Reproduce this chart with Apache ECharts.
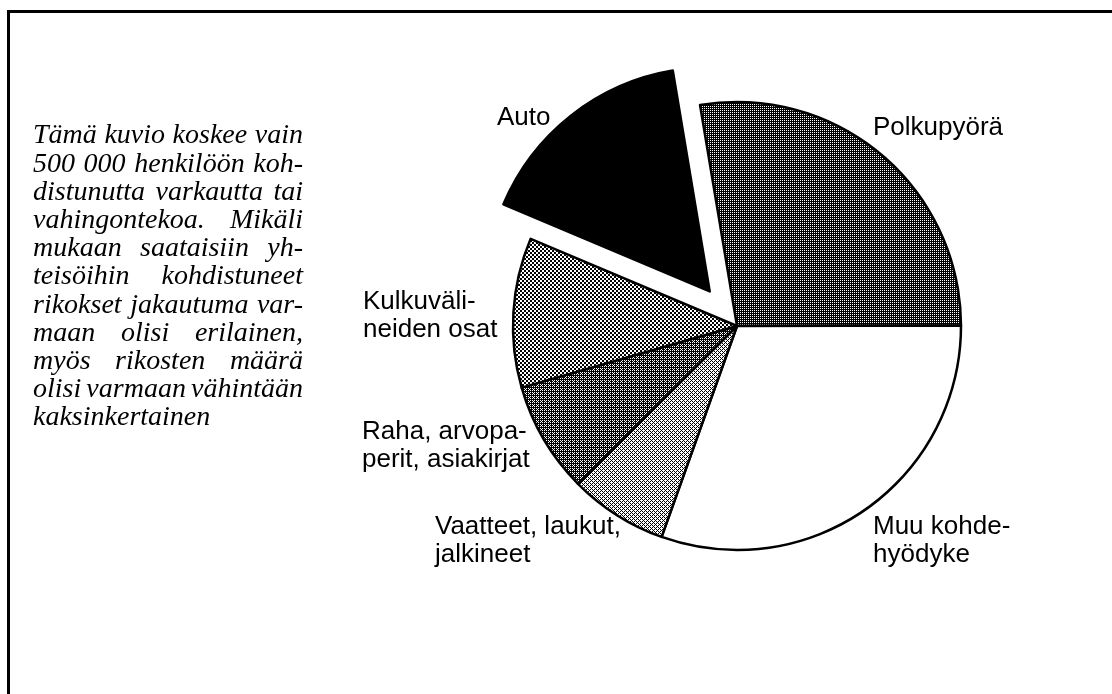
<!DOCTYPE html>
<html>
<head>
<meta charset="utf-8">
<script src="https://cdn.jsdelivr.net/npm/echarts@6/dist/echarts.min.js"></script>
<style>
html, body { margin: 0; padding: 0; background: #fff; }
#main { width: 1112px; height: 694px; }
</style>
</head>
<body>
<div id="main"></div>
<script>
// osuudet (%) myötäpäivään, Polkupyörä alkaa hieman klo 12:n vasemmalta puolelta
var names = ['Polkupyörä', 'Muu kohdehyödyke', 'Vaatteet, laukut, jalkineet', 'Raha, arvopaperit, asiakirjat', 'Kulkuvälineiden osat', 'Auto'];
var labels = ['Polkupyörä', 'Muu kohde-\nhyödyke', 'Vaatteet, laukut,\njalkineet', 'Raha, arvopa-\nperit, asiakirjat', 'Kulkuväli-\nneiden osat', 'Auto'];
var shares = [27.6, 30.5, 7.1, 8.0, 10.8, 16.0];
var exploded = [false, false, false, false, false, true];

var noteLines = [
    'Tämä kuvio koskee vain',
    '500 000 henkilöön koh-',
    'distunutta varkautta tai',
    'vahingontekoa. Mikäli',
    'mukaan saataisiin yh-',
    'teisöihin kohdistuneet',
    'rikokset jakautuma var-',
    'maan olisi erilainen,',
    'myös rikosten määrä',
    'olisi varmaan vähintään',
    'kaksinkertainen'
];

// rasterit: valkoisen osuus (0 = musta, 1 = valkoinen) ja rasterin koko
var shades = [0.25, 1, 0.625, 0.3125, 0.5, 0];
var grain = [1, 1, 1, 1, 2, 1];
var labelPos = [[873, 128], [873, 541], [435, 541], [362, 446], [363, 316], [497, 118]];

var bayer = [[0, 8, 2, 10], [12, 4, 14, 6], [3, 11, 1, 9], [15, 7, 13, 5]];
function dither(white, s) {
    if (white >= 1) return '#fff';
    if (white <= 0) return '#000';
    var n = 4 * s;
    var c = document.createElement('canvas');
    c.width = n; c.height = n;
    var g = c.getContext('2d');
    var img = g.createImageData(n, n);
    for (var y = 0; y < n; y++) {
        for (var x = 0; x < n; x++) {
            var v = bayer[Math.floor(y / s)][Math.floor(x / s)] < white * 16 ? 255 : 0;
            var k = (y * n + x) * 4;
            img.data[k] = v; img.data[k + 1] = v; img.data[k + 2] = v; img.data[k + 3] = 255;
        }
    }
    g.putImageData(img, 0, 0);
    return { image: c, repeat: 'repeat' };
}

var pieData = names.map(function (n, i) {
    var fill = dither(shades[i], grain[i]);
    return {
        name: n,
        value: shares[i],
        selected: exploded[i],
        label: { show: !exploded[i] },
        itemStyle: { color: fill },
        select: { itemStyle: { color: fill } }
    };
});

var labelFont = '26px "Liberation Sans", Arial, sans-serif';

// irrotetun sektorin nimi erikseen
var extraLabels = [];
exploded.forEach(function (e, i) {
    if (!e) return;
    extraLabels.push({
        type: 'text',
        x: labelPos[i][0],
        y: labelPos[i][1],
        silent: true,
        style: { text: labels[i], font: labelFont, fill: '#000', align: 'left', verticalAlign: 'middle' }
    });
});

// tasattu kursiiviteksti vasemmalla
var noteFont = 'italic 28px "Liberation Serif"';
var noteLeft = 33, noteWidth = 270, noteTop = 136, noteStep = 28.2;
var meas = document.createElement('canvas').getContext('2d');
meas.font = noteFont;
var noteTexts = [];
noteLines.forEach(function (line, i) {
    var words = line.split(' ');
    var widths = words.map(function (w) { return meas.measureText(w).width; });
    var total = widths.reduce(function (a, b) { return a + b; }, 0);
    var gap = meas.measureText(' ').width;
    if (i < noteLines.length - 1 && words.length > 1) {
        gap = (noteWidth - total) / (words.length - 1);
    }
    var x = noteLeft;
    words.forEach(function (w, j) {
        noteTexts.push({
            type: 'text',
            x: x,
            y: noteTop + i * noteStep,
            silent: true,
            style: { text: w, font: noteFont, fill: '#000', align: 'left', verticalAlign: 'middle' }
        });
        x += widths[j] + gap;
    });
});

var myChart = echarts.init(document.getElementById('main'));

var option = {
    backgroundColor: '#fff',
    animation: false,
    graphic: [{
        type: 'polyline',
        silent: true,
        shape: { points: [[8.5, 694], [8.5, 11.5], [1112, 11.5]] },
        style: { stroke: '#000', lineWidth: 3, fill: null }
    }].concat(noteTexts, extraLabels),
    series: [{
        type: 'pie',
        center: [737, 326],
        radius: 224,
        startAngle: 99.5,
        clockwise: true,
        selectedMode: 'single',
        selectedOffset: 44,
        avoidLabelOverlap: false,
        silent: true,
        itemStyle: { borderColor: '#000', borderWidth: 2.5 },
        label: {
            show: true,
            position: 'outside',
            formatter: function (p) { return labels[p.dataIndex]; },
            fontFamily: '"Liberation Sans", Arial, sans-serif',
            fontSize: 26,
            lineHeight: 28,
            color: '#000'
        },
        labelLine: { show: false },
        labelLayout: function (p) {
            var pos = labelPos[p.dataIndex];
            return { x: pos[0], y: pos[1], align: 'left', verticalAlign: 'middle', hideOverlap: false };
        },
        emphasis: { disabled: true },
        data: pieData
    }]
};

myChart.setOption(option);
</script>
</body>
</html>
